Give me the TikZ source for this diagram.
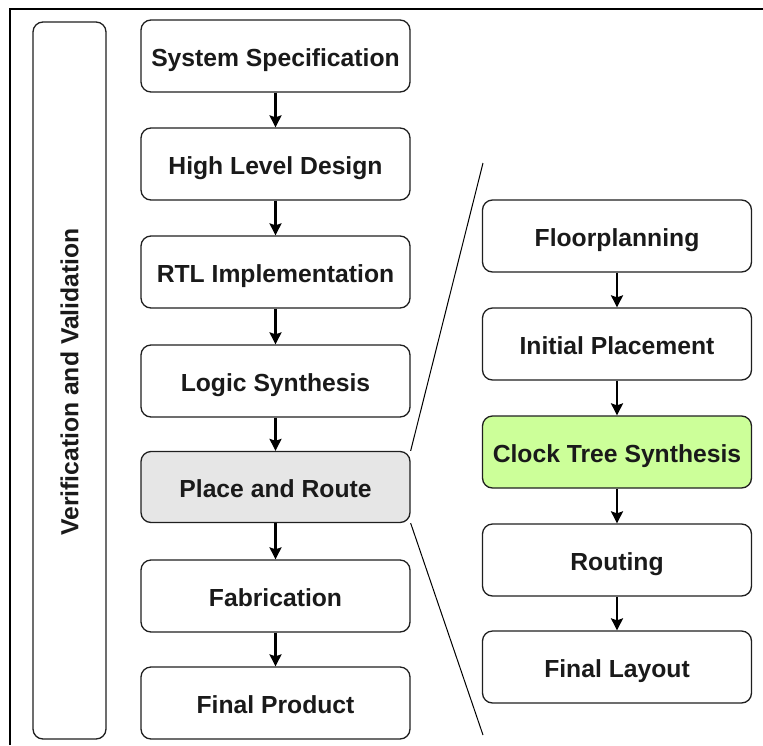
\documentclass[tikz,border=0pt]{standalone}
\usepackage{fontspec}
\setmainfont{Liberation Sans}
\usetikzlibrary{arrows.meta}
\definecolor{txt}{HTML}{1A1A1A}
\definecolor{edge}{HTML}{1F1F1F}
\definecolor{prfill}{HTML}{E6E6E6}
\definecolor{ctsfill}{HTML}{CCFF99}
\tikzset{
  stepbox/.style={draw=edge, line width=1.3pt, rounded corners=10pt, minimum width=269pt, minimum height=72pt, inner sep=0pt, text=txt, font=\bfseries\fontsize{24.7pt}{28pt}\selectfont, fill=white, text height=21pt, text depth=0pt},
  flow/.style={draw=black, line width=2.2pt, -{Stealth[length=12pt,width=12pt,inset=2pt]}},
  zoomline/.style={draw=black, line width=1pt}
}
\begin{document}
\begin{tikzpicture}[x=1pt,y=-1pt]
\useasboundingbox (0,0) rectangle (763,745);
\draw[line width=1.8pt] (10,745) -- (10,9) -- (763,9);
\node[stepbox, minimum width=73pt, minimum height=717pt] (vv) at (69.5,380.5) {};
\node[rotate=90, text=txt, font=\bfseries\fontsize{24.7pt}{28pt}\selectfont] (vvt) at (69.5,382) {Verification and Validation};
\node[stepbox] (a1) at (275.5,56) {System Specification};
\node[stepbox] (a2) at (275.5,164) {High Level Design};
\node[stepbox] (a3) at (275.5,272) {RTL Implementation};
\node[stepbox] (a4) at (275.5,381) {Logic Synthesis};
\node[stepbox, fill=prfill, minimum height=71pt] (a5) at (275.5,487) {Place and Route};
\node[stepbox] (a6) at (275.5,596) {Fabrication};
\node[stepbox] (a7) at (275.5,703) {Final Product};
\node[stepbox] (b1) at (617,236) {Floorplanning};
\node[stepbox] (b2) at (617,344) {Initial Placement};
\node[stepbox, fill=ctsfill] (b3) at (617,452) {Clock Tree Synthesis};
\node[stepbox] (b4) at (617,560) {Routing};
\node[stepbox] (b5) at (617,667) {Final Layout};
\foreach \u/\v in {a1/a2,a2/a3,a3/a4,a4/a5,a5/a6,a6/a7,b1/b2,b2/b3,b3/b4,b4/b5}
  \draw[flow] (\u.south) -- (\v.north);
\coordinate (zt) at (483,163);
\coordinate (zb) at (483,735);
\draw[zoomline] (a5.north east) -- (zt);
\draw[zoomline] (a5.south east) -- (zb);
\end{tikzpicture}
\end{document}
